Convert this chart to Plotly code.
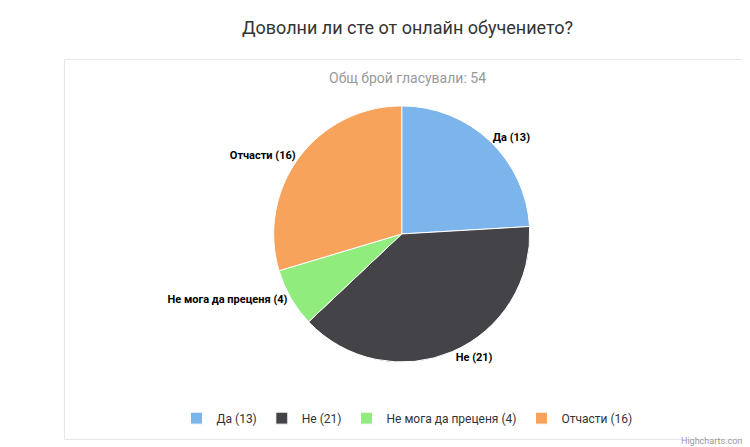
import plotly.graph_objects as go

labels = ["Да", "Не", "Не мога да преценя", "Отчасти"]
values = [13, 21, 4, 16]
colors = ["#7cb5ec", "#434348", "#90ed7d", "#f7a35c"]

fig = go.Figure(go.Pie(
    labels=[f"{l} ({v})" for l, v in zip(labels, values)],
    values=values, sort=False, direction="clockwise", rotation=0,
    marker=dict(colors=colors, line=dict(color="white", width=1)),
    textposition="outside", texttemplate="<b>%{label}</b>",
    textfont=dict(size=11, color="#000", family="Roboto"),
    hoverinfo="label+value",
    domain=dict(x=[0.2, 0.785], y=[0.208, 0.781]),
))
fig.update_layout(
    width=750, height=447, margin=dict(l=0, r=0, t=0, b=0),
    paper_bgcolor="white", font=dict(family="Roboto", color="#333"),
    showlegend=True,
    legend=dict(orientation="h", x=0.5, xanchor="center", y=0.05, yanchor="bottom",
                font=dict(size=12, color="#333"), itemwidth=30),
    annotations=[
        dict(text="Доволни ли сте от онлайн обучението?", x=0.5, y=0.985, xref="paper", yref="paper",
             xanchor="center", yanchor="top", showarrow=False, font=dict(size=18, color="#333")),
        dict(text="Общ брой гласували: 54", x=0.5, y=0.865, xref="paper", yref="paper",
             xanchor="center", yanchor="top", showarrow=False, font=dict(size=14, color="#999")),
        dict(text="Highcharts.com", x=0.985, y=0.015, xref="paper", yref="paper",
             xanchor="right", yanchor="bottom", showarrow=False, font=dict(size=9, color="#999")),
    ],
    shapes=[dict(type="rect", xref="paper", yref="paper", x0=0.012, x1=0.985, y0=0.035, y1=0.885,
                 line=dict(color="#e6e6e6", width=1), layer="below")],
)
fig.write_html("out.html")
